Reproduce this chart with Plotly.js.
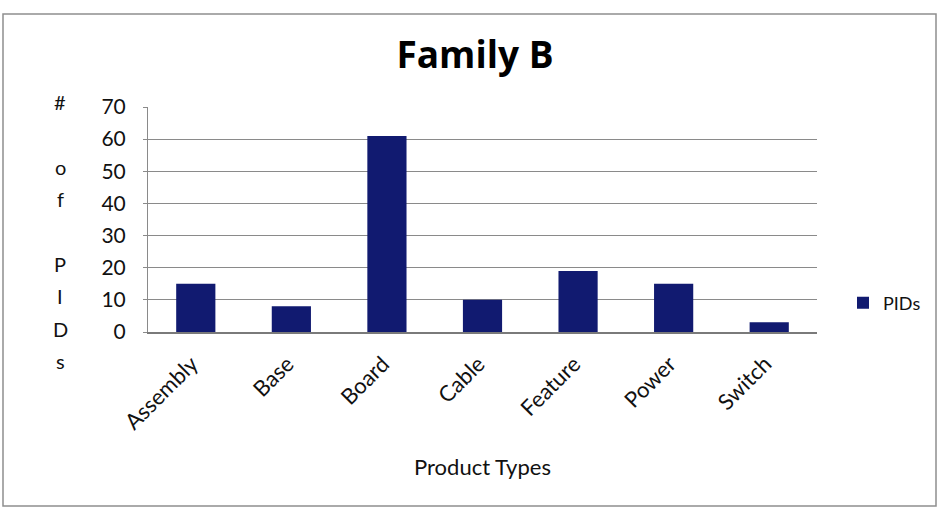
<!DOCTYPE html>
<html>
<head>
<meta charset="utf-8">
<script src="https://cdn.plot.ly/plotly-3.0.1.min.js"></script>
<style>
  html, body { margin: 0; padding: 0; background: #ffffff; }
  #chart { width: 942px; height: 521px; }
</style>
</head>
<body>
<div id="chart"></div>
<script>
// Product type counts for Family B
const categories = ["Assembly", "Base", "Board", "Cable", "Feature", "Power", "Switch"];
const pids = [15, 8, 61, 10, 19, 15, 3];
const seriesName = "PIDs";
const chartTitle = "Family B";
const xTitle = "Product Types";
const yTitle = "# of PIDs";
const yTicks = [0, 10, 20, 30, 40, 50, 60, 70];

const W = 942, H = 521;
const M = { l: 148, r: 125, t: 107, b: 189 };
const plotW = W - M.l - M.r;
const plotH = H - M.t - M.b;
const FONT = "Lato, 'Open Sans', sans-serif";
const TITLE_FONT = "'Open Sans', Lato, sans-serif";
const NAVY = "#111a70";

// paper-coordinate helpers from page pixels
const px = x => (x - M.l) / plotW;
const py = y => (H - M.b - y) / plotH;

// stacked, one-character-per-line axis title
const stackAnnotations = [];
const lineStep = 32.4;
Array.from(yTitle).forEach((ch, i) => {
  if (ch === " ") return;
  stackAnnotations.push({
    text: ch, xref: "paper", yref: "paper",
    x: px(60), y: py(102), xanchor: "center", yanchor: "middle",
    yshift: -i * lineStep, showarrow: false,
    font: { family: FONT, size: 20, color: "#111" }
  });
});

const trace = {
  type: "bar",
  name: seriesName,
  x: categories,
  y: pids,
  marker: { color: NAVY, line: { width: 0 } },
  showlegend: true,
  hoverinfo: "x+y"
};

const layout = {
  width: W, height: H,
  margin: M,
  paper_bgcolor: "#ffffff",
  plot_bgcolor: "#ffffff",
  bargap: 0.59,
  font: { family: FONT, color: "#111" },
  title: {
    text: "<b>" + chartTitle + "</b>",
    x: 475 / W, xanchor: "center",
    y: 1 - 55 / H, yanchor: "middle", yref: "container",
    font: { family: TITLE_FONT, size: 37, color: "#000" }
  },
  xaxis: {
    type: "category",
    tickangle: -45,
    ticks: "",
    ticklabelstandoff: 9,
    ticklabelshift: -4,
    tickfont: { family: FONT, size: 22, color: "#111" },
    showline: true, linecolor: "#7a7a7a", linewidth: 1.5,
    showgrid: false, zeroline: false,
    title: { text: xTitle, standoff: 26, font: { family: FONT, size: 22, color: "#111" } }
  },
  yaxis: {
    range: [0, 70],
    tickvals: yTicks,
    ticks: "outside", ticklen: 4, tickcolor: "#8a8a8a",
    tickfont: { family: FONT, size: 21, color: "#111" },
    ticklabelstandoff: 13,
    showline: true, linecolor: "#8a8a8a", linewidth: 1,
    showgrid: true, gridcolor: "#8a8a8a", gridwidth: 1,
    zeroline: false
  },
  legend: {
    x: px(843), y: py(303), xanchor: "left", yanchor: "middle",
    xref: "paper", yref: "paper",
    font: { family: FONT, size: 18, color: "#111" },
    itemwidth: 30, bgcolor: "rgba(0,0,0,0)"
  },
  annotations: stackAnnotations,
  shapes: [{
    type: "rect", xref: "paper", yref: "paper",
    x0: px(3), x1: px(936), y0: py(506), y1: py(14),
    line: { color: "#8f8f8f", width: 1.5 }, fillcolor: "rgba(0,0,0,0)", layer: "below"
  }]
};

Plotly.newPlot("chart", [trace], layout, { displayModeBar: false, staticPlot: true });
</script>
</body>
</html>
